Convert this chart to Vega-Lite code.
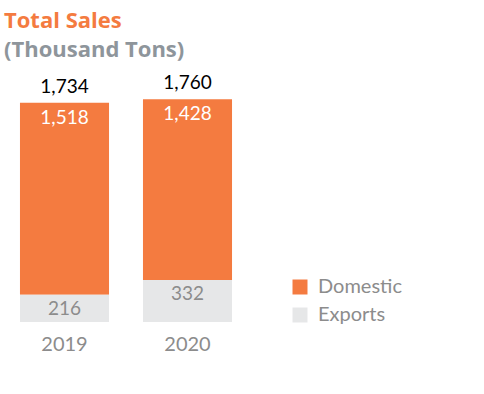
{
  "$schema": "https://vega.github.io/schema/vega-lite/v6.json",
  "autosize": "none",
  "width": 246,
  "height": 253,
  "padding": {"left": 3, "top": 69, "right": 235, "bottom": 72},
  "background": "white",
  "config": {"view": {"stroke": null}, "font": "Lato"},
  "title": {
    "text": "Total Sales",
    "subtitle": "(Thousand Tons)",
    "anchor": "start",
    "frame": "group",
    "font": "Open Sans",
    "fontSize": 22,
    "fontWeight": "bold",
    "color": "#F47B40",
    "subtitleFont": "Open Sans",
    "subtitleFontSize": 22,
    "subtitleFontWeight": "bold",
    "subtitleColor": "#8E959B",
    "subtitlePadding": 7,
    "offset": 7,
    "dx": 1
  },
  "data": {
    "values": [
      {"year": "2019", "type": "Domestic", "value": 1518},
      {"year": "2019", "type": "Exports", "value": 216},
      {"year": "2020", "type": "Domestic", "value": 1428},
      {"year": "2020", "type": "Exports", "value": 332}
    ]
  },
  "transform": [
    {"joinaggregate": [{"op": "sum", "field": "value", "as": "total"}], "groupby": ["year"]}
  ],
  "encoding": {
    "x": {
      "field": "year",
      "type": "nominal",
      "scale": {"paddingInner": 0.276, "paddingOuter": 0.138},
      "axis": {
        "title": null,
        "ticks": false,
        "domain": false,
        "labelAngle": 0,
        "labelFontSize": 20,
        "labelColor": "#8C8C8C",
        "labelBaseline": "middle",
        "labelPadding": 22
      }
    }
  },
  "layer": [
    {
      "mark": {"type": "bar"},
      "encoding": {
        "y": {"field": "value", "type": "quantitative", "stack": "zero", "scale": {"domain": [0, 2000]}, "axis": null},
        "color": {
          "field": "type",
          "type": "nominal",
          "scale": {"domain": ["Domestic", "Exports"], "range": ["#F47B40", "#E6E7E8"]},
          "legend": {
            "title": null,
            "orient": "none",
            "legendX": 287,
            "legendY": 208,
            "padding": 0,
            "symbolType": "square",
            "symbolSize": 225,
            "symbolStrokeWidth": 0,
            "labelFontSize": 20,
            "labelColor": "#8C8C8C",
            "labelOffset": 8,
            "rowPadding": 8
          }
        },
        "order": {"field": "type", "sort": "descending"}
      }
    },
    {
      "transform": [{"filter": "datum.type === 'Domestic'"}],
      "mark": {"type": "text", "fontSize": 19, "color": "#000000", "baseline": "middle", "dy": -16},
      "encoding": {
        "y": {"field": "total", "type": "quantitative"},
        "text": {"field": "total", "type": "quantitative", "format": ","}
      }
    },
    {
      "transform": [{"filter": "datum.type === 'Domestic'"}],
      "mark": {"type": "text", "fontSize": 19, "color": "#FFFFFF", "baseline": "middle", "dy": 15},
      "encoding": {
        "y": {"field": "total", "type": "quantitative"},
        "text": {"field": "value", "type": "quantitative", "format": ","}
      }
    },
    {
      "transform": [{"filter": "datum.type === 'Exports'"}],
      "mark": {"type": "text", "fontSize": 19, "color": "#8C8C8C", "baseline": "middle", "dy": 14},
      "encoding": {
        "y": {"field": "value", "type": "quantitative"},
        "text": {"field": "value", "type": "quantitative", "format": ","}
      }
    }
  ]
}
